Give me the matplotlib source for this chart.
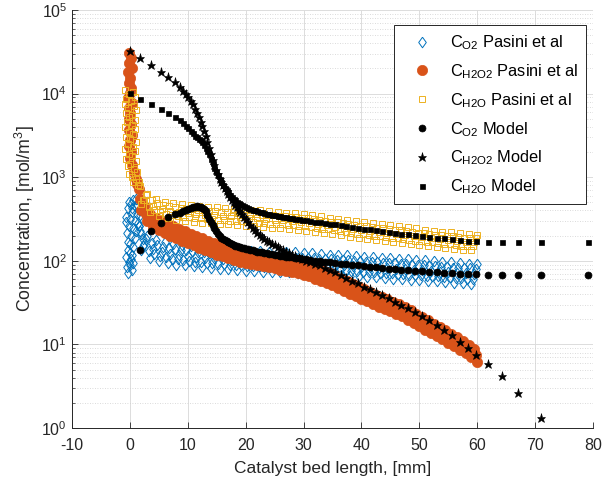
import numpy as np
import matplotlib
matplotlib.use('Agg')
import matplotlib.pyplot as plt
from matplotlib.ticker import LogLocator, NullFormatter, FixedLocator

plt.rcParams['font.family'] = ['Liberation Sans', 'DejaVu Sans']
plt.rcParams['mathtext.fontset'] = 'custom'
plt.rcParams['mathtext.rm'] = 'Liberation Sans'
plt.rcParams['mathtext.it'] = 'Liberation Sans:italic'
plt.rcParams['mathtext.bf'] = 'Liberation Sans:bold'
plt.rcParams['mathtext.default'] = 'regular'

# ---------------- experimental data (Pasini et al) ----------------
x_exp = [1.5, 2.0, 2.5, 3.0, 3.5, 4.0, 4.5, 5.0, 5.5, 6.0, 6.5, 7.0, 7.5, 8.0, 8.5, 9.0, 9.5, 10.0,
         10.5, 11.0, 11.5, 12.0, 12.5, 13.0, 13.5, 14.0, 14.5, 15.0, 15.5, 16.0, 16.5, 17.0, 17.5,
         18.0, 18.5, 19.0, 19.5, 20.0, 20.5, 21.0, 21.5, 22.0, 22.5, 23.0, 23.5, 24.0, 24.5, 25.0,
         25.5, 26.0, 26.5, 27.0, 27.5, 28.0, 28.5, 29.0, 29.5, 30.0, 30.5, 31.0, 31.5, 32.0, 32.5,
         33.0, 33.5, 34.0, 34.5, 35.0, 35.5, 36.0, 36.5, 37.0, 37.5, 38.0, 38.5, 39.0, 39.5, 40.0,
         40.5, 41.0, 41.5, 42.0, 42.5, 43.0, 43.5, 44.0, 44.5, 45.0, 45.5, 46.0, 46.5, 47.0, 47.5,
         48.0, 48.5, 49.0, 49.5, 50.0, 50.5, 51.0, 51.5, 52.0, 52.5, 53.0, 53.5, 54.0, 54.5, 55.0,
         55.5, 56.0, 56.5, 57.0, 57.5, 58.0, 58.5, 59.0, 59.5, 60.0]

x_exp_b = [1.75, 2.25, 2.75, 3.25, 3.75, 4.25, 4.75, 5.25, 5.75, 6.25, 6.75, 7.25, 7.75, 8.25,
           8.75, 9.25, 9.75, 10.25, 10.75, 11.25, 11.75, 12.25, 12.75, 13.25, 13.75, 14.25, 14.75,
           15.25, 15.75, 16.25, 16.75, 17.25, 17.75, 18.25, 18.75, 19.25, 19.75, 20.25, 20.75,
           21.25, 21.75, 22.25, 22.75, 23.25, 23.75, 24.25, 24.75, 25.25, 25.75, 26.25, 26.75,
           27.25, 27.75, 28.25, 28.75, 29.25, 29.75, 30.25, 30.75, 31.25, 31.75, 32.25, 32.75,
           33.25, 33.75, 34.25, 34.75, 35.25, 35.75, 36.25, 36.75, 37.25, 37.75, 38.25, 38.75,
           39.25, 39.75, 40.25, 40.75, 41.25, 41.75, 42.25, 42.75, 43.25, 43.75, 44.25, 44.75,
           45.25, 45.75, 46.25, 46.75, 47.25, 47.75, 48.25, 48.75, 49.25, 49.75, 50.25, 50.75,
           51.25, 51.75, 52.25, 52.75, 53.25, 53.75, 54.25, 54.75, 55.25, 55.75, 56.25, 56.75,
           57.25, 57.75, 58.25, 58.75, 59.25, 59.75]

# O2 (Pasini et al)
o2_exp_head_x = [-0.3, 0.3, -0.5, 0.1, 0.5, -0.2, 0.2, -0.6, 0.4,
                 0.0, -0.3, 0.5, 0.1, -0.4, 0.8,
                 0.2, -0.5, 1.1, 0.5, -0.2, 1.4, 0.8, 0.0, -0.6, 1.2, 0.4, 1.6, -0.3, 0.9,
                 0.2, -0.1, 0.6, 1.3, 1.8, 1.5, 1.9, 2.2, -0.7, 0.3, 1.0]
o2_exp_head = [72, 78, 84, 88, 94, 98, 104, 110, 116,
               125, 135, 145, 158, 170, 185,
               200, 215, 230, 245, 262, 280, 298, 318, 338, 360, 380, 405, 430, 455,
               480, 505, 530, 470, 350, 260, 210, 180, 290, 430, 555]
o2_exp = [264, 133, 160, 198, 109, 138, 177, 100, 128, 166,
          94, 122, 159, 90, 118, 154, 88, 115, 150, 86,
          112, 147, 84, 109, 143, 82, 107, 140, 80, 105,
          137, 79, 103, 135, 77, 101, 132, 76, 99, 131,
          75, 98.5, 130, 74.5, 97.7, 129, 74, 97, 128, 73,
          96, 127, 73, 95.5, 126, 72, 94.7, 125, 71.5, 93.6,
          123, 70.5, 92.2, 121, 69.4, 90.9, 119, 68.4, 89.5, 118,
          67.3, 88.2, 116, 66.3, 86.8, 114, 65.3, 85.5, 112, 64.3,
          84.2, 111, 63.3, 82.9, 109, 62.3, 81.6, 107, 61.3, 80.3,
          105, 60.3, 79, 104, 59.4, 77.7, 102, 58.5, 76.6, 101,
          57.6, 75.4, 99, 56.7, 74.2, 97.4, 55.8, 73, 95.8, 54.9,
          71.8, 94.2, 54, 70.6, 92.7, 53, 69.4, 91]
o2_exp_b = [230, 152, 184, 130, 164, 120, 154, 114, 147, 110,
            143, 106, 139, 104, 136, 102, 133, 100, 131, 98,
            129, 97, 127, 95, 124, 94, 123, 92, 121, 91,
            120, 90, 118, 89, 117, 88, 115, 87, 114, 86,
            114, 86, 113, 85, 112, 85, 112, 84, 111, 84,
            111, 84, 110, 83, 109, 83, 109, 82, 108, 81,
            107, 81, 106, 80, 105, 79, 104, 78, 103, 78,
            102, 77, 101, 76, 100, 75, 99, 74, 98, 74,
            97, 73, 96, 72, 95, 71, 94, 71, 93, 70,
            92, 69, 91, 68, 90, 68, 89, 67, 88, 66,
            87, 66, 86, 65, 85, 64, 84, 64, 83, 63,
            83, 62, 82, 61, 81, 61, 80]

# H2O2 (Pasini et al)
h2o2_exp_head_x = [-0.2, 0.2, -0.1, 0.3, -0.3, 0.1, -0.2, 0.2, 0.0, -0.3, 0.3, -0.1, 0.1,
                   -0.2, 0.2, -0.1, 0.3, 0.0, -0.2, 0.2, 0.1, 0.4, 0.7, 1.0, 1.2]
h2o2_exp_head = [31000, 27000, 23500, 20500, 18000, 15500, 13500, 11700, 10200, 8900, 7700,
                 6700, 5800, 5000, 4300, 3700, 3200, 2750, 2350, 2000, 1700, 1400, 1150, 950, 820]
h2o2_exp = [720, 405, 452, 297, 365, 254, 325, 231, 298, 213,
            276, 198, 258, 185, 241, 173, 226, 163, 212, 153,
            198, 142, 186, 134, 174, 126, 165, 119, 155, 113,
            148, 108, 142, 103, 136, 98, 130, 95, 125, 91,
            121, 89, 118, 86, 114, 84, 111, 81, 107, 78,
            104, 76, 100, 73, 97, 71, 93, 68, 89, 65,
            85, 61, 80, 58, 75, 54, 71, 51, 66, 47,
            61, 44, 57, 40.5, 53, 38, 49, 35.3, 45.8, 32.8,
            42.3, 30.2, 39.4, 28.4, 37.1, 26.7, 34.8, 25, 32.5, 23.3,
            30.2, 21.6, 27.8, 19.8, 25.5, 18.1, 23.2, 16.4, 21.1, 15,
            19.4, 13.8, 17.7, 12.6, 16.2, 11.6, 14.8, 10.5, 13.5, 9.5,
            12.2, 8.6, 11, 7.8, 9.9, 7, 8.8, 6.2]
h2o2_exp_b = [545, 430, 367, 330, 305, 287, 274, 262, 252, 242,
              234, 226, 218, 211, 204, 198, 192, 186, 180, 174,
              168, 162, 157, 152, 148, 144, 140, 136, 132, 129,
              126, 123, 120, 118, 115, 113, 111, 109, 107, 105,
              104, 102, 101, 99, 98, 96, 95, 93, 92, 90,
              89, 87, 86, 84, 83, 81, 80, 78, 76, 74,
              72, 70, 68, 66, 64, 62, 60, 58, 56, 54,
              52, 50, 48, 46, 45, 43, 42, 40, 39, 37,
              36, 34.5, 33.5, 32.5, 31.5, 30.5, 29.5, 28.5, 27.5, 26.5,
              25.5, 24.5, 23.5, 22.5, 21.5, 20.5, 19.5, 18.6, 17.8, 17,
              16.3, 15.6, 15, 14.3, 13.7, 13.1, 12.5, 11.9, 11.3, 10.7,
              10.2, 9.7, 9.2, 8.7, 8.3, 7.8, 7.4]

# H2O (Pasini et al)
h2o_exp_head_x = [-0.8, 0.5, -0.2, 0.9, -0.6, 0.2, -0.9, 0.7, -0.3, 1.0,
                  -0.7, 0.4, -0.1, 0.8, -0.5, 0.3, -0.8, 0.9, -0.2, 0.6,
                  -0.6, 0.1, 1.0, -0.4, 0.5, -0.9, 0.8, -0.1, 0.3, -0.6,
                  1.1, 0.0, -0.3, 0.7, 1.3, -0.2, 0.4, 1.0, 0.6, 1.4]
h2o_exp_head = [11000, 10500, 9800, 9200, 8600, 8100, 7600, 7100, 6700, 6300,
                5900, 5500, 5200, 4850, 4550, 4250, 4000, 3750, 3500, 3250,
                3050, 2850, 2650, 2500, 2330, 2180, 2040, 1900, 1780, 1660,
                1550, 1450, 1350, 1260, 1170, 1090, 1010, 940, 870, 800]
h2o_exp = [875, 480, 540, 625, 380, 455, 550, 342, 418, 512,
           322, 397, 490, 310, 383, 474, 300, 372, 461, 293,
           363, 451, 286, 356, 442, 282, 350, 435, 277, 345,
           429, 273, 340, 422, 269, 334, 415, 264, 328, 407,
           259, 322, 400, 254, 316, 392, 250, 310, 385, 245,
           304, 377, 240, 298, 370, 235, 292, 362, 230, 284,
           351, 222, 275, 340, 215, 266, 329, 208, 257, 317,
           201, 248, 306, 194, 239, 296, 188, 233, 289, 183,
           227, 281, 178, 221, 274, 174, 215, 266, 169, 209,
           259, 164, 203, 251, 159, 197, 244, 154, 191, 236,
           150, 186, 230, 146, 181, 224, 142, 176, 219, 138,
           172, 214, 136, 169, 210, 134, 166, 206]
h2o_exp_b = [784, 534, 605, 445, 532, 405, 493, 381, 468, 365,
             451, 353, 439, 344, 429, 337, 420, 331, 413, 326,
             407, 321, 401, 317, 396, 313, 392, 310, 388, 307,
             384, 303, 381, 301, 376, 297, 372, 294, 367, 290,
             363, 287, 358, 283, 354, 279, 349, 276, 345, 272,
             340, 269, 336, 265, 332, 262, 327, 258, 321, 253,
             315, 247, 308, 242, 301, 237, 295, 231, 288, 226,
             281, 221, 274, 215, 268, 211, 263, 207, 259, 204,
             254, 200, 250, 197, 245, 193, 241, 190, 236, 186,
             232, 182, 227, 179, 223, 175, 218, 172, 214, 168,
             209, 166, 206, 162, 203, 159, 199, 157, 196, 154,
             193, 152, 190, 150, 188, 149, 186]

# ---------------- model ----------------
x_model = [0, 1.7, 3.7, 5.3, 6.6, 7.8, 8.6, 9.2, 9.7, 10.1,
           10.5, 10.9, 11.3, 11.6, 11.9, 12.2, 12.5, 12.8, 13.1, 13.4,
           13.7, 14.0, 14.3, 14.6, 14.9, 15.2, 15.5, 15.8, 16.1, 16.4,
           16.7, 17.0, 17.3, 17.6, 17.9, 18.2, 18.5, 18.8, 19.1, 19.4,
           19.7, 20.0, 20.4, 20.8, 21.2, 21.6, 22.0, 22.4, 22.8, 23.2,
           23.6, 24.0, 24.5, 25.0, 25.5, 26.0, 26.5, 27.0, 27.5, 28.0,
           28.6, 29.2, 29.8, 30.4, 31.2, 32.0, 32.8, 33.7, 34.6, 35.5,
           36.4, 37.4, 38.4, 39.4, 40.4, 41.4, 42.5, 43.6, 44.7, 45.8,
           46.9, 48.1, 49.3, 50.5, 51.7, 53.0, 54.3, 55.6, 57.0, 58.4,
           59.8, 61.9, 64.2, 67.0, 71.1, 79.1]

o2_model = [np.nan, 135, 225, 285, 334, 360, 375, 390, 405, 418,
            430, 440, 446, 448, 446, 440, 430, 420, 390, 350,
            315, 290, 265, 245, 228, 212, 200, 190, 182, 176,
            171, 166, 162, 158, 155, 152, 149, 147, 145, 143,
            141, 139, 137, 135, 133, 131, 129, 127.5, 126, 124.5,
            123, 121.5, 120, 118.5, 117, 115.5, 114, 112.5, 111, 110,
            108.5, 107, 105.5, 104, 102, 100, 98.5, 97, 95.5, 94,
            92.5, 91, 89.5, 88, 86.5, 85, 83.5, 82, 80.5, 79,
            78, 77, 76, 75, 74, 73, 72, 71, 70, 69.5,
            69, 68.5, 68, 68, 68, 68]

h2o2_model = [32500, 26500, 21700, 18300, 15600, 13600, 12000, 10800, 9900, 9000,
              8200, 7500, 6600, 5900, 5200, 4600, 4100, 3600, 3100, 2650,
              2250, 1900, 1620, 1400, 1230, 1090, 950, 870, 800, 740,
              680, 630, 580, 540, 505, 470, 440, 410, 385, 360,
              335, 315, 290, 268, 250, 233, 218, 205, 194, 184,
              175, 168, 160, 153, 146, 140, 134, 128, 123, 118,
              113, 108, 104, 100, 96, 92, 88, 83, 78, 73,
              68, 63, 58, 54, 49, 46, 42, 39, 35.5, 32.5,
              30, 27, 24.5, 22, 19.5, 17, 15, 12.8, 10.8, 9.0,
              7.4, 5.8, 4.2, 2.6, 1.3, 0.3]

h2o_model = [10300, 8700, 7450, 6600, 5900, 5250, 4800, 4450, 4150, 3880,
             3600, 3350, 3100, 3000, 2900, 2800, 2650, 2450, 2250, 2050,
             1870, 1650, 1470, 1300, 1160, 1050, 960, 880, 810, 750,
             700, 660, 620, 585, 555, 530, 510, 490, 475, 462,
             450, 440, 428, 418, 408, 400, 393, 386, 380, 374,
             368, 363, 357, 351, 346, 341, 336, 331, 327, 323,
             318, 314, 310, 306, 300, 295, 290, 284, 278, 272,
             266, 260, 254, 248, 243, 238, 232, 227, 222, 217,
             212, 207, 202, 198, 194, 190, 186, 182, 178, 175,
             172, 170, 169, 168, 167, 167]

labels = [r'C$_{O2}$ Pasini et al', r'C$_{H2O2}$ Pasini et al', r'C$_{H2O}$ Pasini et al',
          r'C$_{O2}$ Model', r'C$_{H2O2}$ Model', r'C$_{H2O}$ Model']
x_ticks = [-10, 0, 10, 20, 30, 40, 50, 60, 70, 80]

blue = '#0072BD'
orange = '#D95319'
yellow = '#EDB120'

diamond = [(0, 1), (0.72, 0), (0, -1), (-0.72, 0), (0, 1)]

fig = plt.figure(figsize=(6.03, 4.82), dpi=100)
ax = fig.add_axes([0.1194, 0.112, 0.864, 0.8672])

ax.plot(o2_exp_head_x + x_exp + x_exp_b, o2_exp_head + o2_exp + o2_exp_b, ls='none',
        marker=diamond, ms=7.6, mfc='none', mec=blue, mew=0.7, label=labels[0])
ax.plot(h2o2_exp_head_x + x_exp + x_exp_b, h2o2_exp_head + h2o2_exp + h2o2_exp_b, ls='none',
        marker='o', ms=7.4, mfc=orange, mec=orange, mew=0.5, label=labels[1])
ax.plot(h2o_exp_head_x + x_exp + x_exp_b, h2o_exp_head + h2o_exp + h2o_exp_b, ls='none',
        marker='s', ms=5.0, mfc='none', mec=yellow, mew=0.7, label=labels[2])
ax.plot(x_model, o2_model, ls='none', marker='o', ms=5, mfc='black', mec='black', mew=0.5,
        label=labels[3])
ax.plot(x_model, h2o2_model, ls='none', marker='*', ms=6.5, mfc='black', mec='black', mew=0.4,
        label=labels[4])
ax.plot(x_model, h2o_model, ls='none', marker='s', ms=3.6, mfc='black', mec='black', mew=0.5,
        label=labels[5])

ax.set_yscale('log')
ax.set_xlim(-10, 80)
ax.set_ylim(1, 1e5)
ax.xaxis.set_major_locator(FixedLocator(x_ticks))
ax.set_xticklabels([str(t) for t in x_ticks])
ax.yaxis.set_major_locator(LogLocator(base=10, numticks=10))
ax.yaxis.set_minor_locator(LogLocator(base=10, subs=np.arange(2, 10), numticks=20))
ax.yaxis.set_minor_formatter(NullFormatter())

ax.grid(True, which='major', color='#dcdcdc', lw=0.7, ls='-')
ax.grid(True, which='minor', axis='y', color='#cfcfcf', lw=0.6, ls=(0, (1, 2)))
ax.set_axisbelow(True)

for s in ['top', 'right']:
    ax.spines[s].set_visible(False)
for s in ['left', 'bottom']:
    ax.spines[s].set_color('#262626')
    ax.spines[s].set_linewidth(0.7)

ax.tick_params(which='both', direction='in', colors='#262626', labelsize=11.5)
ax.tick_params(axis='x', pad=7)
ax.tick_params(which='major', length=4, width=0.6)
ax.tick_params(which='minor', length=2, width=0.5)

ax.set_xlabel('Catalyst bed length, [mm]', fontsize=12.5, color='#262626', labelpad=6)
ax.set_ylabel('Concentration, [mol/m$^3$]', fontsize=12.8, color='#262626', labelpad=3)

leg = ax.legend(loc='upper right', bbox_to_anchor=(0.987, 0.964), fontsize=11.8,
                frameon=True, fancybox=False, framealpha=1, edgecolor='#262626',
                borderpad=0.5, handlelength=2.4, handletextpad=0.5, labelspacing=0.62,
                borderaxespad=0, numpoints=1)
leg.get_frame().set_linewidth(0.7)

fig.savefig('out.png', dpi=100)
